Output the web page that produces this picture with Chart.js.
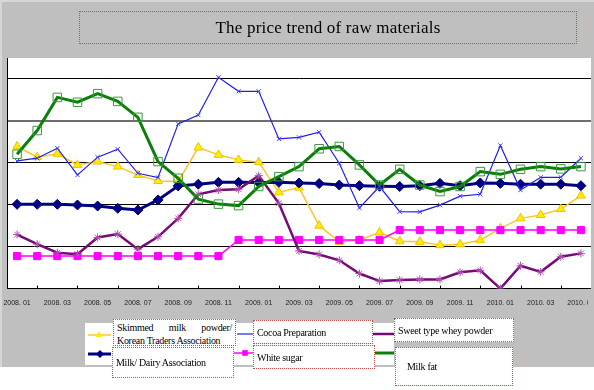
<!DOCTYPE html>
<html>
<head>
<meta charset="utf-8">
<script src="https://cdn.jsdelivr.net/npm/chart.js@4/dist/chart.umd.min.js"></script>
<style>
  html, body { margin: 0; padding: 0; background: #fff; overflow: hidden; }
  #frame { position: absolute; left: 0; top: 0; width: 594px; height: 367px; background: #bfbfbf;
           box-sizing: border-box; border-top: 2px solid #d6d6d6; border-left: 2px solid #d6d6d6; }
  #legendBg { position: absolute; left: 85px; top: 323px; width: 309px; height: 42px; background: #fff; }
  #chartWrap { position: absolute; left: 0; top: 0; width: 610px; height: 390px; }
  #rightEdge { position: absolute; left: 591px; top: 40px; width: 3px; height: 327px; background: #bfbfbf; }
  #labelClip { position: absolute; left: 588px; top: 290px; width: 6px; height: 25px; background: #bfbfbf; }
  .box { position: absolute; box-sizing: border-box; border: 1px dotted #c0504d; background: #fff;
         font-family: "Liberation Serif", serif; font-size: 10px; letter-spacing: -0.3px; color: #000; line-height: 13px; }
  #title { position: absolute; left: 79px; top: 11px; width: 498px; height: 33px; box-sizing: border-box;
           border: 1px dotted #c0504d; font-family: "Liberation Serif", serif; font-size: 17px;
           letter-spacing: 0.2px; text-align: center; line-height: 31px; color: #000; }
</style>
</head>
<body>
<div id="frame"></div>
<div id="legendBg"></div>
<div id="chartWrap"><canvas id="lineChart" width="610" height="390"></canvas></div>
<div id="rightEdge"></div>
<div id="labelClip"></div>
<div id="title">The price trend of raw materials</div>

<div class="box" style="left:113px;top:319px;width:123px;height:27px;padding:1px 3px;text-align:justify;">Skimmed milk powder/ Korean Traders Association</div>
<div class="box" style="left:112px;top:347px;width:122px;height:31px;padding:8px 3px;">Milk/ Dairy Association</div>
<div class="box" style="left:253px;top:320px;width:120px;height:24px;padding:5px 3px;">Cocoa Preparation</div>
<div class="box" style="left:253px;top:345px;width:122px;height:24px;padding:5px 3px;">White sugar</div>
<div class="box" style="left:394px;top:318px;width:120px;height:24px;padding:5px 3px;">Sweet type whey powder</div>
<div class="box" style="left:395px;top:347px;width:118px;height:39px;padding:12px 11px;">Milk fat</div>

<script>
// categorias (meses) e séries
const months = [
  '2008. 01', '2008. 02', '2008. 03', '2008. 04', '2008. 05', '2008. 06', '2008. 07', '2008. 08',
  '2008. 09', '2008. 10', '2008. 11', '2008. 12',
  '2009. 01', '2009. 02', '2009. 03', '2009. 04', '2009. 05', '2009. 06', '2009. 07', '2009. 08',
  '2009. 09', '2009. 10', '2009. 11', '2009. 12',
  '2010. 01', '2010. 02', '2010. 03', '2010. 04', '2010. 05'
];

const skimmedMilk = [67.8, 62.7, 64.3, 59.0, 60.6, 58.2, 54.2, 51.3, 51.1, 67.3, 63.8, 61.4, 60.3, 45.9, 48.2,
  30.0, 22.3, 23.1, 26.8, 22.6, 22.3, 20.7, 21.2, 23.1, 28.7, 33.5, 35.1, 37.9, 44.4];
const milkDairy = [40.2, 40.2, 40.2, 39.9, 39.4, 38.3, 37.5, 42.3, 49.0, 49.8, 50.7, 50.7, 50.6, 50.7, 50.4,
  50.1, 49.4, 49.1, 48.8, 48.7, 49.1, 50.2, 49.1, 50.4, 50.2, 49.8, 49.8, 49.8, 49.1];
const cocoa = [60.9, 62.2, 67.0, 54.2, 62.7, 66.5, 55.0, 53.0, 78.6, 82.8, 100.8, 94.1, 94.1, 71.4, 72.1,
  74.6, 59.8, 38.5, 48.7, 36.7, 36.6, 39.8, 44.1, 45.0, 68.3, 47.0, 53.1, 53.1, 62.2];
const whiteSugar = [15.5, 15.5, 15.5, 15.5, 15.5, 15.5, 15.5, 15.5, 15.5, 15.5, 15.5, 23.2, 23.2, 23.2, 23.2,
  23.2, 23.2, 23.2, 23.2, 27.9, 27.9, 27.9, 27.9, 27.9, 27.9, 27.9, 27.9, 27.9, 27.9];
const wheyPowder = [25.8, 21.2, 17.1, 16.4, 24.4, 26.0, 18.8, 24.7, 33.5, 45.0, 47.0, 47.4, 53.9, 40.7, 18.0,
  16.3, 13.5, 7.2, 3.6, 4.1, 4.4, 4.4, 7.8, 8.7, 0, 10.9, 8.0, 15.2, 16.8];
const milkFat = [64.1, 75.4, 91.2, 88.9, 93.0, 89.3, 81.7, 60.6, 52.6, 42.7, 40.3, 39.6, 48.7, 53.4, 58.2,
  66.7, 67.8, 59.0, 49.4, 56.9, 49.4, 46.3, 48.7, 55.8, 54.5, 56.9, 58.2, 57.1, 58.2];

// posição dos ícones da legenda (linha + marcador)
const legendIcons = [
  { x1: 88, x2: 111, mx: 99, y: 335 },
  { x1: 88, x2: 111, mx: 100, y: 354 },
  { x1: 237, x2: 253, mx: 244, y: 334 },
  { x1: 234, x2: 253, mx: 245, y: 353 },
  { x1: 373, x2: 394, mx: 382, y: 334 },
  { x1: 375, x2: 394, mx: 386, y: 353 }
];

// fundo branco da área do gráfico, marcas do eixo x e ícones da legenda
const framePlugin = {
  id: 'framePlugin',
  beforeDraw(chart) {
    const { ctx, chartArea: a } = chart;
    ctx.save();
    ctx.fillStyle = '#fff';
    ctx.fillRect(a.left, a.top, a.right - a.left, a.bottom - a.top);
    ctx.restore();
  },
  beforeDatasetsDraw(chart) {
    const { ctx, chartArea: a } = chart;
    const xs = chart.scales.x;
    const step = xs.getPixelForTick(1) - xs.getPixelForTick(0);
    ctx.save();
    ctx.strokeStyle = '#000';
    ctx.lineWidth = 1;
    ctx.beginPath();
    for (let i = 1; i < months.length; i++) {
      const x = Math.round(xs.getPixelForTick(i) - step / 2) + 0.5;
      ctx.moveTo(x, a.bottom - 3);
      ctx.lineTo(x, a.bottom);
    }
    ctx.stroke();
    ctx.restore();
  },
  afterDraw(chart) {
    const ctx = chart.ctx;
    chart.data.datasets.forEach((ds, i) => {
      const ic = legendIcons[i];
      ctx.save();
      ctx.strokeStyle = ds.borderColor;
      ctx.lineWidth = ds.borderWidth;
      ctx.beginPath();
      ctx.moveTo(ic.x1, ic.y);
      ctx.lineTo(ic.x2, ic.y);
      ctx.stroke();
      ctx.fillStyle = ds.pointBackgroundColor;
      ctx.strokeStyle = ds.pointBorderColor;
      ctx.lineWidth = ds.pointBorderWidth;
      Chart.helpers.drawPoint(ctx, { pointStyle: ds.pointStyle, radius: ds.pointRadius * 0.8, rotation: 0 }, ic.mx, ic.y);
      ctx.restore();
    });
  }
};

function initializeChart() {
  const canvas = document.getElementById('lineChart');
  if (!canvas) return;

  new Chart(canvas.getContext('2d'), {
    type: 'line',
    data: {
      labels: months,
      datasets: [
        {
          label: 'Skimmed milk powder/ Korean Traders Association', data: skimmedMilk, order: 6,
          borderColor: '#fcc52c', borderWidth: 1.5, pointStyle: 'triangle', pointRadius: 5,
          pointBackgroundColor: '#ffee00', pointBorderColor: '#f2c200', pointBorderWidth: 1
        },
        {
          label: 'Milk/ Dairy Association', data: milkDairy, order: 5,
          borderColor: '#000080', borderWidth: 3, pointStyle: 'rectRot', pointRadius: 5,
          pointBackgroundColor: '#000080', pointBorderColor: '#000080', pointBorderWidth: 1
        },
        {
          label: 'Cocoa Preparation', data: cocoa, order: 4,
          borderColor: '#1f1fe6', borderWidth: 1.2, pointStyle: 'crossRot', pointRadius: 3,
          pointBackgroundColor: '#1f1fe6', pointBorderColor: '#4040ff', pointBorderWidth: 1
        },
        {
          label: 'White sugar', data: whiteSugar, order: 3,
          borderColor: '#ff00ff', borderWidth: 1.5, pointStyle: 'rect', pointRadius: 5,
          pointBackgroundColor: '#ff00ff', pointBorderColor: '#ff00ff', pointBorderWidth: 1
        },
        {
          label: 'Sweet type whey powder', data: wheyPowder, order: 2,
          borderColor: '#760a76', borderWidth: 2.5, pointStyle: 'star', pointRadius: 4,
          pointBackgroundColor: '#b050b0', pointBorderColor: '#b050b0', pointBorderWidth: 1
        },
        {
          label: 'Milk fat', data: milkFat, order: 1,
          borderColor: '#0a800a', borderWidth: 3, pointStyle: 'rect', pointRadius: 6,
          pointBackgroundColor: 'rgba(0,0,0,0)', pointBorderColor: '#3f963f', pointBorderWidth: 1
        }
      ]
    },
    options: {
      responsive: false,
      devicePixelRatio: 1,
      animation: false,
      layout: { padding: { left: 7, top: 58, right: 19, bottom: 83 } },
      elements: { line: { tension: 0 } },
      plugins: {
        legend: { display: false },
        title: { display: false },
        tooltip: { enabled: false }
      },
      scales: {
        x: {
          offset: true,
          grid: { display: true, drawOnChartArea: false, drawTicks: true, tickLength: 10, tickColor: 'rgba(0,0,0,0)' },
          border: { display: true, color: '#000', width: 1 },
          ticks: {
            autoSkip: false, maxRotation: 0, padding: 0, color: '#222',
            font: { family: 'Liberation Sans', size: 7 },
            callback: (v, i) => (i % 2 === 0 ? months[i] : null)
          }
        },
        y: {
          min: 0, max: 110,
          ticks: { stepSize: 20, display: false },
          border: { display: true, color: '#000', width: 1 },
          grid: {
            drawTicks: false,
            color: c => (c.tick.value > 100 ? 'rgba(0,0,0,0)' : (c.tick.value === 80 ? '#6e6e6e' : '#000')),
            lineWidth: c => (c.tick.value === 80 ? 2 : 1)
          }
        }
      }
    },
    plugins: [framePlugin]
  });
}

document.addEventListener('DOMContentLoaded', initializeChart);
</script>
</body>
</html>
